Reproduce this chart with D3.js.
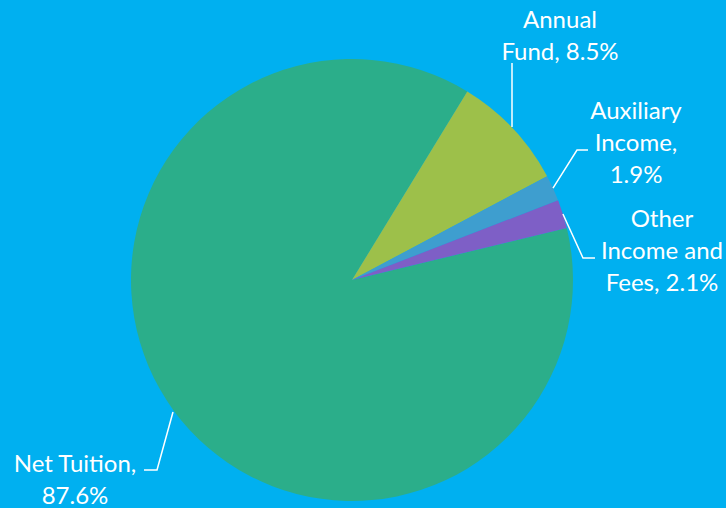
<!DOCTYPE html>
<html>
<head>
<meta charset="utf-8">
<script src="https://cdn.jsdelivr.net/npm/d3@7"></script>
<style>
  html, body { margin: 0; padding: 0; background: #00b0f0; }
  svg { display: block; }
</style>
</head>
<body>
<script>
// slice data, in drawing order (clockwise)
var categories = ["Net Tuition", "Annual Fund", "Auxiliary Income", "Other Income and Fees"];
var values = [87.6, 8.5, 1.9, 2.1];
var colors = ["#2bae8a", "#9dc04a", "#3e9ecf", "#7e5fc6"];
// label lines as they wrap in the picture
var labelLines = [
  ["Net Tuition,", "87.6%"],
  ["Annual", "Fund, 8.5%"],
  ["Auxiliary", "Income,", "1.9%"],
  ["Other", "Income and", "Fees, 2.1%"]
];

var width = 726, height = 508,
    cx = 352, cy = 280, radius = 221;

var svg = d3.select("body").append("svg")
    .attr("width", width)
    .attr("height", height);

var pie = d3.pie()
    .sort(null)
    .value(function(d) { return d; })
    .startAngle(76.4 * Math.PI / 180)
    .endAngle(76.4 * Math.PI / 180 + 2 * Math.PI);

var arcs = pie(values);

var arc = d3.arc().innerRadius(0).outerRadius(radius);

var g = svg.append("g").attr("transform", "translate(" + cx + "," + cy + ")");

g.selectAll("path")
  .data(arcs)
  .enter()
  .append("path")
    .attr("d", arc)
    .attr("fill", function(d, i) { return colors[i]; });

// label placement (text anchor point, line leaving the pie, elbow)
var labelPos = [
  { x: 75, y: 464, elbow: [[157, 470], [144, 470]], angleFrac: 0.80 },
  { x: 560, y: 20, elbow: [[512, 63]], angleFrac: 0.6 },
  { x: 636, y: 111, elbow: [[577, 150], [588, 150]], angleFrac: 0.5 },
  { x: 662, y: 219, elbow: [[583, 258], [595, 258]], angleFrac: 0.5 }
];

function edgePoint(d, frac) {
  var a = d.startAngle + (d.endAngle - d.startAngle) * frac;
  return [cx + radius * Math.sin(a), cy - radius * Math.cos(a)];
}

// leader lines
var line = d3.line();
labelPos.forEach(function(p, i) {
  var start;
  if (i === 0) start = [173, 412];
  else if (i === 1) start = [512, 127];
  else start = edgePoint(arcs[i], p.angleFrac);
  svg.append("path")
    .attr("d", line([start].concat(p.elbow)))
    .attr("fill", "none")
    .attr("stroke", "#ffffff")
    .attr("stroke-width", 1.5);
});

// labels
labelPos.forEach(function(p, i) {
  var t = svg.append("text")
    .attr("x", p.x)
    .attr("y", p.y)
    .attr("text-anchor", "middle")
    .attr("fill", "#ffffff")
    .style("font-family", "Lato, 'Open Sans', sans-serif")
    .style("font-size", "24px");
  labelLines[i].forEach(function(s, j) {
    t.append("tspan")
      .attr("x", p.x)
      .attr("y", p.y + j * 32)
      .attr("dy", "0.35em")
      .text(s);
  });
});
</script>
</body>
</html>
